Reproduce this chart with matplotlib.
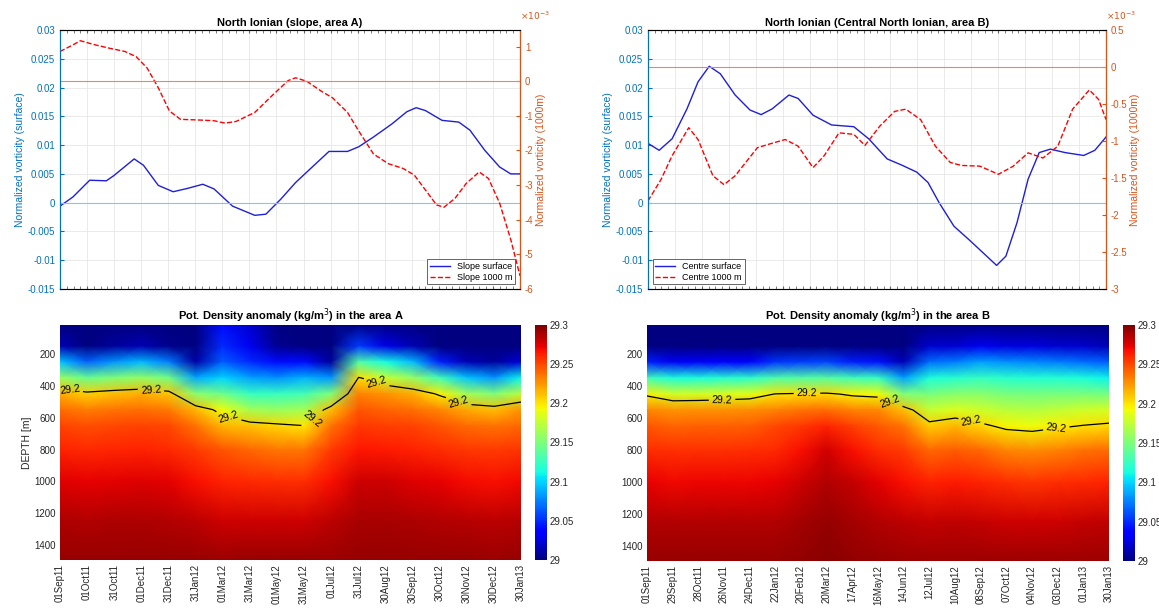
import numpy as np
import matplotlib
matplotlib.use('Agg')
from matplotlib import pyplot as plt
from matplotlib.ticker import FuncFormatter, AutoMinorLocator

plt.rcParams['font.family'] = ['Liberation Sans', 'DejaVu Sans']

# colores de los ejes (estilo MATLAB)
c_left = (0.0, 0.447, 0.741)
c_right = (0.85, 0.325, 0.098)
c_tick = (0.15, 0.15, 0.15)

# dias desde 01Sep11 hasta 30Jan13
t_end = 517

# ---- panel A, vorticidad
a_surf_days = [0, 14.6, 33.4, 52.1, 60.5, 83.4, 93.8, 110.5, 127.2, 143.8, 160.5, 173.0,
               193.9, 218.9, 231.4, 248.1, 264.8, 285.6, 302.3, 323.1, 335.6, 352.3, 373.2,
               389.8, 400.3, 410.7, 429.4, 448.2, 460.7, 477.4, 494.1, 506.6, 517]
a_surf = [-0.0006, 0.001, 0.0039, 0.0038, 0.0047, 0.0076, 0.0065, 0.003, 0.0019, 0.0025,
          0.0032, 0.0024, -0.0006, -0.0022, -0.002, 0.0006, 0.0035, 0.0065, 0.0089, 0.0089,
          0.0097, 0.0114, 0.0137, 0.0158, 0.0165, 0.016, 0.0143, 0.014, 0.0126, 0.0091,
          0.0062, 0.005, 0.005]
a_deep_days = [0, 14.6, 22.9, 39.6, 56.3, 73, 85.5, 98, 110.5, 123, 135.5, 156.4, 173,
               185.5, 198, 218.9, 239.8, 256.4, 264.8, 277.3, 293.9, 306.4, 323.1, 335.6,
               352.3, 368.9, 385.7, 398.2, 410.7, 423.2, 431.5, 444, 456.6, 471.1, 481.6,
               494.1, 506.6, 517]
a_deep = [0.86, 1.05, 1.17, 1.05, 0.95, 0.86, 0.71, 0.38, -0.19, -0.86, -1.1, -1.12, -1.14,
          -1.21, -1.16, -0.9, -0.38, 0.02, 0.1, 0.0, -0.29, -0.48, -0.9, -1.43, -2.1, -2.38,
          -2.52, -2.71, -3.14, -3.57, -3.64, -3.38, -2.95, -2.62, -2.81, -3.52, -4.57, -5.62]

# ---- panel B, vorticidad
b_surf_days = [0, 12.6, 27.2, 44, 56.5, 69.1, 81.6, 98.4, 115.1, 127.7, 140.2, 159.1, 169.5,
               186.3, 207.2, 232.3, 249.1, 270, 286.8, 303.5, 316.1, 328.6, 345.4, 362.1,
               378.9, 393.5, 404, 416.5, 429.1, 441.6, 454.2, 470.9, 491.9, 504.4, 517]
b_surf = [0.0103, 0.0091, 0.0111, 0.0163, 0.021, 0.0237, 0.0224, 0.0187, 0.0161, 0.0153,
          0.0163, 0.0187, 0.0181, 0.0152, 0.0135, 0.0132, 0.0111, 0.0076, 0.0065, 0.0053,
          0.0035, 0.0, -0.0041, -0.0064, -0.0088, -0.0109, -0.0093, -0.0035, 0.0041, 0.0087,
          0.0093, 0.0087, 0.0082, 0.0091, 0.0114]
b_deep_days = [0, 14.7, 27.2, 46, 56.5, 73.3, 85.8, 98.4, 123.5, 140.2, 154.9, 169.5, 186.3,
               198.8, 215.6, 232.3, 244.9, 261.6, 278.4, 290.9, 307.7, 324.4, 341.2, 353.7,
               374.7, 395.6, 412.3, 429.1, 445.8, 462.6, 479.3, 498.2, 508.7, 517]
b_deep = [-1.81, -1.52, -1.2, -0.82, -0.98, -1.47, -1.59, -1.47, -1.09, -1.03, -0.98, -1.07,
          -1.36, -1.2, -0.89, -0.91, -1.06, -0.8, -0.6, -0.57, -0.71, -1.07, -1.29, -1.33,
          -1.34, -1.45, -1.34, -1.16, -1.23, -1.07, -0.57, -0.31, -0.44, -0.71]

# ---- densidad potencial (filas = profundidad, columnas = fecha)
depths = [10, 150, 250, 350, 450, 550, 650, 800, 1000, 1250, 1500]

dens_a_days = [0, 30, 61, 91, 122, 152, 182, 213, 243, 274, 304, 335, 365, 396, 426, 456, 487, 517]
dens_a_cols = [
    [28.991, 29.014, 29.094, 29.161, 29.218, 29.238, 29.251, 29.262, 29.275, 29.288, 29.293],
    [28.99, 29.0, 29.067, 29.142, 29.207, 29.233, 29.248, 29.26, 29.273, 29.287, 29.293],
    [28.99, 29.008, 29.082, 29.152, 29.213, 29.236, 29.25, 29.261, 29.274, 29.288, 29.293],
    [28.99, 29.013, 29.092, 29.159, 29.217, 29.237, 29.251, 29.262, 29.275, 29.288, 29.293],
    [28.99, 29.004, 29.075, 29.147, 29.21, 29.234, 29.25, 29.26, 29.274, 29.287, 29.293],
    [28.99, 28.993, 29.01, 29.087, 29.155, 29.215, 29.236, 29.254, 29.268, 29.284, 29.293],
    [29.04, 29.05, 29.065, 29.1, 29.145, 29.192, 29.215, 29.245, 29.262, 29.28, 29.292],
    [29.02, 29.03, 29.05, 29.085, 29.125, 29.165, 29.21, 29.24, 29.26, 29.28, 29.293],
    [28.99, 29.005, 29.04, 29.08, 29.125, 29.16, 29.205, 29.235, 29.258, 29.28, 29.293],
    [28.99, 28.998, 29.04, 29.09, 29.13, 29.165, 29.2, 29.235, 29.258, 29.28, 29.293],
    [28.99, 28.993, 29.008, 29.082, 29.152, 29.213, 29.236, 29.254, 29.268, 29.284, 29.292],
    [28.995, 29.055, 29.134, 29.202, 29.231, 29.246, 29.255, 29.266, 29.279, 29.289, 29.293],
    [28.993, 29.028, 29.113, 29.178, 29.226, 29.241, 29.253, 29.264, 29.279, 29.289, 29.293],
    [28.99, 29.013, 29.092, 29.159, 29.217, 29.237, 29.251, 29.262, 29.275, 29.288, 29.293],
    [28.99, 28.998, 29.046, 29.128, 29.196, 29.23, 29.245, 29.258, 29.272, 29.286, 29.293],
    [28.99, 28.994, 29.015, 29.096, 29.163, 29.219, 29.238, 29.255, 29.269, 29.285, 29.293],
    [28.99, 28.993, 29.008, 29.082, 29.152, 29.213, 29.236, 29.254, 29.268, 29.284, 29.292],
    [28.99, 28.995, 29.023, 29.109, 29.173, 29.225, 29.24, 29.256, 29.27, 29.285, 29.293],
]

dens_b_days = [0, 29, 57, 86, 115, 144, 172, 201, 230, 259, 287, 316, 345, 373, 402, 431, 460, 488, 517]
dens_b_cols = [
    [28.99, 28.998, 29.046, 29.128, 29.196, 29.23, 29.245, 29.258, 29.272, 29.286, 29.293],
    [28.99, 28.996, 29.031, 29.115, 29.181, 29.226, 29.241, 29.257, 29.27, 29.286, 29.293],
    [28.99, 28.996, 29.032, 29.116, 29.182, 29.227, 29.242, 29.257, 29.271, 29.286, 29.293],
    [28.99, 28.997, 29.035, 29.119, 29.185, 29.227, 29.242, 29.257, 29.271, 29.286, 29.293],
    [28.99, 28.997, 29.038, 29.121, 29.188, 29.228, 29.243, 29.258, 29.271, 29.286, 29.293],
    [28.99, 28.999, 29.053, 29.133, 29.201, 29.232, 29.25, 29.259, 29.272, 29.286, 29.293],
    [28.99, 28.999, 29.056, 29.135, 29.203, 29.236, 29.255, 29.268, 29.28, 29.29, 29.295],
    [28.99, 29.0, 29.058, 29.136, 29.204, 29.238, 29.262, 29.278, 29.287, 29.293, 29.297],
    [28.99, 28.998, 29.046, 29.128, 29.196, 29.232, 29.252, 29.268, 29.282, 29.29, 29.295],
    [28.99, 28.997, 29.043, 29.125, 29.193, 29.229, 29.244, 29.258, 29.274, 29.287, 29.293],
    [28.99, 28.995, 29.015, 29.085, 29.152, 29.213, 29.236, 29.254, 29.268, 29.284, 29.292],
    [28.99, 29.02, 29.07, 29.115, 29.15, 29.178, 29.208, 29.24, 29.262, 29.282, 29.292],
    [28.99, 29.022, 29.075, 29.12, 29.155, 29.185, 29.215, 29.243, 29.264, 29.283, 29.292],
    [28.99, 29.03, 29.085, 29.125, 29.155, 29.18, 29.205, 29.24, 29.262, 29.282, 29.292],
    [28.99, 29.025, 29.08, 29.12, 29.15, 29.173, 29.195, 29.23, 29.258, 29.28, 29.292],
    [28.99, 29.025, 29.078, 29.118, 29.148, 29.17, 29.192, 29.228, 29.256, 29.28, 29.292],
    [28.99, 29.022, 29.075, 29.118, 29.15, 29.175, 29.197, 29.232, 29.258, 29.28, 29.292],
    [28.99, 29.02, 29.07, 29.115, 29.15, 29.18, 29.201, 29.236, 29.26, 29.282, 29.292],
    [28.99, 29.015, 29.065, 29.11, 29.148, 29.182, 29.204, 29.238, 29.262, 29.283, 29.292],
]

# donde van las etiquetas "29.2" (dias)
label_days_a = [11, 102, 189, 283, 355, 447]
label_days_b = [84, 179, 272, 363, 458]

# etiquetas de fecha
labels_a = ['01Sep11', '01Oct11', '31Oct11', '01Dec11', '31Dec11', '31Jan12', '01Mar12',
            '31Mar12', '01May12', '31May12', '01Jul12', '31Jul12', '30Aug12', '30Sep12',
            '30Oct12', '30Nov12', '30Dec12', '30Jan13']
labels_b = ['01Sep11', '29Sep11', '28Oct11', '26Nov11', '24Dec11', '22Jan12', '20Feb12',
            '20Mar12', '17Apr12', '16May12', '14Jun12', '12Jul12', '10Aug12', '08Sep12',
            '07Oct12', '04Nov12', '03Dec12', '01Jan13', '30Jan13']

W, H = 1159, 611
fig = plt.figure(figsize=(W / 100, H / 100), dpi=100)

def rect(x0, x1, y0, y1):
    return [x0 / W, 1 - y1 / H, (x1 - x0) / W, (y1 - y0) / H]

gfmt = FuncFormatter(lambda v, p: '%g' % round(v, 6))

def vort_panel(r, title, sd, s, dd, d, rlim, rticks, names, legloc):
    ax = fig.add_axes(r)
    ax.plot(sd, s, color=(0.12, 0.12, 0.85), lw=1.0, label=names[0])
    ax.axhline(0, color=(0.45, 0.8, 0.95), lw=0.8)
    ax.set_xlim(0, t_end)
    ax.set_ylim(-0.015, 0.03)
    ax.set_yticks(np.arange(-0.015, 0.0301, 0.005))
    ax.yaxis.set_major_formatter(gfmt)
    ax.set_xticks(np.linspace(0, t_end, 18))
    ax.xaxis.set_minor_locator(AutoMinorLocator(4))
    ax.set_xticklabels([])
    ax.grid(True, which='major', color='0.9', lw=0.6)
    ax.tick_params(axis='y', colors=c_left, labelsize=7, direction='in', length=3)
    ax.tick_params(axis='x', which='both', direction='in', top=True, length=2, color='0.4')
    ax.set_ylabel('Normalized vorticity (surface)', color=c_left, fontsize=7.5, labelpad=2)
    ax.set_title(title, fontsize=8, fontweight='bold', pad=3)
    for sp in ['top', 'bottom']:
        ax.spines[sp].set_color('0.6')
    ax.spines['left'].set_color(c_left)
    ax2 = ax.twinx()
    ax2.plot(dd, d, 'r--', lw=1.0, label=names[1])
    ax2.axhline(0, color=(0.95, 0.5, 0.42), lw=0.8)
    ax2.set_ylim(*rlim)
    ax2.set_yticks(rticks)
    ax2.yaxis.set_major_formatter(gfmt)
    ax2.tick_params(axis='y', colors=c_right, labelsize=7, direction='in', length=3)
    ax2.spines['right'].set_color(c_right)
    ax2.spines['left'].set_color(c_left)
    ax2.set_ylabel('Normalized vorticity (1000m)', color=c_right, fontsize=7.5, labelpad=2)
    ax2.text(1.0, 1.03, r'$\times10^{-3}$', transform=ax2.transAxes, color=c_right,
             fontsize=6.5, ha='left', va='bottom')
    h1, l1 = ax.get_legend_handles_labels()
    h2, l2 = ax2.get_legend_handles_labels()
    leg = ax2.legend(h1 + h2, l1 + l2, loc=legloc, fontsize=6.5, fancybox=False,
                     framealpha=1, edgecolor='0.3', borderpad=0.3, handlelength=2.2,
                     labelspacing=0.2)
    leg.get_frame().set_linewidth(0.6)

vort_panel(rect(60, 520, 30, 289), 'North Ionian (slope, area A)', a_surf_days, a_surf,
           a_deep_days, a_deep, (-6, 1.48), np.arange(-6, 1.1, 1),
           ['Slope surface', 'Slope 1000 m'], 'lower right')
vort_panel(rect(648, 1106, 30, 289), 'North Ionian (Central North Ionian, area B)',
           b_surf_days, b_surf, b_deep_days, b_deep, (-3, 0.5), np.arange(-3, 0.51, 0.5),
           ['Centre surface', 'Centre 1000 m'], 'lower left')

def dens_panel(r, cr, title, days, cols, labels, lab_days, ylab):
    ax = fig.add_axes(r)
    field = np.array(cols).T
    pm = ax.pcolormesh(days, depths, field, shading='gouraud', cmap='jet', vmin=29, vmax=29.3)
    cs = ax.contour(days, depths, field, levels=[29.2], colors='k', linewidths=0.9)
    # posiciones de etiqueta tomadas sobre la propia isolinea
    v = cs.get_paths()[0].vertices
    o = np.argsort(v[:, 0])
    pos = [(x, np.interp(x, v[o, 0], v[o, 1])) for x in lab_days]
    ax.clabel(cs, fmt='%.1f', fontsize=7.5, inline_spacing=3, manual=pos)
    ax.set_ylim(1494, 18)
    ax.set_xlim(0, t_end)
    ax.set_yticks(np.arange(200, 1401, 200))
    ax.set_xticks(np.linspace(0, t_end, len(labels)))
    ax.set_xticklabels(labels, rotation=90)
    ax.tick_params(colors=c_tick, labelsize=7, length=0, pad=3)
    for sp in ax.spines.values():
        sp.set_visible(False)
    ax.set_title(title, fontsize=8, fontweight='bold', pad=3)
    if ylab:
        ax.set_ylabel(ylab, fontsize=7.5, color=c_tick, labelpad=2)
    cax = fig.add_axes(cr)
    cb = fig.colorbar(pm, cax=cax, ticks=np.arange(29, 29.301, 0.05))
    cb.ax.yaxis.set_major_formatter(gfmt)
    cb.ax.tick_params(labelsize=7, colors=c_tick, length=0, pad=2)
    cb.outline.set_visible(False)

dens_panel(rect(60, 521, 325, 560), rect(535, 547, 325, 560),
           'Pot. Density anomaly (kg/m$^3$) in the area A', dens_a_days, dens_a_cols,
           labels_a, label_days_a, 'DEPTH [m]')
dens_panel(rect(647, 1109, 325, 561), rect(1123, 1135, 325, 561),
           'Pot. Density anomaly (kg/m$^3$) in the area B', dens_b_days, dens_b_cols,
           labels_b, label_days_b, None)

plt.savefig('out.png', dpi=100)
